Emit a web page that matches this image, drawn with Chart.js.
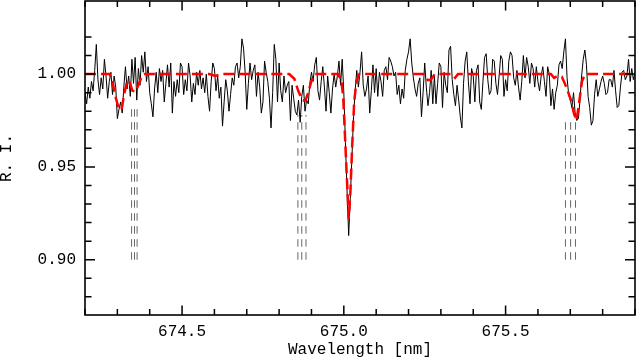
<!DOCTYPE html>
<html>
<head>
<meta charset="utf-8">
<script src="https://cdn.jsdelivr.net/npm/chart.js@4.4.1/dist/chart.umd.min.js"></script>
<style>
  html, body { margin: 0; padding: 0; background: #fff; }
  #wrap { width: 637px; height: 359px; }
</style>
</head>
<body>
<div id="wrap"><canvas id="spec"></canvas></div>
<script>
// observed spectrum, sampled every 0.005 nm from 674.2 nm
const WL_START = 674.2;
const WL_STEP = 0.005;
const flux = [
  0.990,0.984,0.993,0.987,0.996,0.991,1.002,1.016,0.997,0.989,0.998,0.992,1.008,0.999,0.987,0.996,1.001,0.989,0.999,0.993,
  0.976,0.981,0.985,0.979,0.993,1.004,0.992,0.999,0.988,1.008,0.995,1.009,0.986,1.003,0.994,1.010,1.001,1.012,0.996,1.004,
  0.990,0.984,0.977,0.992,1.001,0.990,1.003,0.996,1.002,0.985,0.995,1.005,0.993,1.006,0.979,0.996,0.988,0.997,0.990,1.006,
  1.004,0.989,0.997,0.991,1.006,0.999,0.985,0.995,0.989,1.001,0.994,1.002,0.992,0.998,0.990,1.000,0.988,0.980,0.996,1.006,
  1.003,0.991,0.999,0.987,0.993,0.972,0.985,0.997,0.991,0.980,0.989,0.998,0.994,1.004,1.006,0.998,1.004,1.019,1.014,1.001,
  0.981,0.995,1.006,0.997,1.002,1.005,0.988,1.001,0.993,0.979,0.985,1.007,1.001,0.996,0.987,0.971,0.990,1.016,1.008,0.985,
  1.006,0.991,0.985,0.999,0.990,0.994,0.996,0.975,0.994,0.987,0.980,0.978,0.986,0.974,0.988,0.994,0.980,0.986,0.984,0.995,
  1.001,0.996,1.005,1.009,0.991,0.986,0.996,1.004,0.993,0.980,0.999,0.990,0.979,0.992,1.000,0.993,0.999,1.007,0.994,1.008,
  0.990,0.963,0.937,0.913,0.933,0.955,0.977,0.991,1.002,0.993,1.001,1.012,0.994,0.988,0.992,0.999,0.979,0.991,1.005,0.990,
  1.003,0.988,1.001,0.996,0.988,1.002,1.004,0.997,1.009,1.007,1.004,0.999,1.001,0.989,0.994,0.984,0.992,0.987,1.002,1.008,
  1.012,1.019,1.006,0.998,0.992,0.988,0.995,0.998,0.977,0.990,1.006,0.993,0.983,0.990,1.002,0.984,0.999,0.984,0.995,1.006,
  1.004,0.982,1.001,0.994,0.990,1.013,1.015,0.997,0.989,0.983,0.994,0.986,0.977,0.971,0.995,1.007,1.012,0.996,0.984,1.003,
  0.999,0.985,1.002,1.005,0.985,0.981,0.996,1.009,1.011,0.997,0.989,0.991,1.008,1.007,0.995,0.989,0.999,1.010,1.008,0.988,
  0.997,0.991,1.007,1.012,1.010,0.998,0.994,1.002,0.993,0.986,0.996,1.010,0.998,1.009,1.004,0.995,1.006,1.003,0.993,1.004,
  0.996,0.991,0.999,1.004,0.996,0.988,1.004,1.000,0.983,0.992,0.981,0.990,0.994,1.005,1.007,1.003,1.012,1.019,0.998,0.989,
  0.986,0.982,0.990,0.979,0.975,0.976,0.986,0.999,1.008,1.013,1.005,0.988,0.982,0.9725,0.975,0.989,0.997,0.988,0.992,0.996,
  0.999,0.995,0.989,0.990,0.997,0.997,0.993,1.002,0.991,0.982,0.983,0.993,1.001,1.002,0.997,0.999,1.008,0.996,1.003,0.997,
  1.001
];

// synthetic model (red dashed)
const modelWl = [
  674.200, 674.276, 674.285, 674.294, 674.305, 674.313, 674.322, 674.331, 674.337, 674.347,
  674.356, 674.365, 674.377, 674.384, 674.584, 674.603, 674.621, 674.831, 674.847, 674.859,
  674.872, 674.881, 674.890, 674.900, 674.909, 674.982, 674.992, 674.998, 675.004, 675.011,
  675.015, 675.020, 675.026, 675.032, 675.039, 675.048, 675.245, 675.260, 675.269, 675.281,
  675.335, 675.344, 675.353, 675.640, 675.650, 675.660, 675.674, 675.683, 675.692, 675.702,
  675.711, 675.719, 675.726, 675.736, 675.745, 675.900
];
const modelFlux = [
  1.000, 1.000, 0.996, 0.988, 0.981, 0.981, 0.990, 0.9965, 0.996, 0.991,
  0.9905, 0.994, 0.9995, 1.000, 1.000, 0.999, 1.000, 1.000, 0.9975, 0.991,
  0.986, 0.9855, 0.990, 0.9965, 1.000, 1.000, 0.997, 0.988, 0.965, 0.938,
  0.922, 0.935, 0.962, 0.985, 0.996, 1.000, 1.000, 0.9968, 0.997, 1.000,
  1.000, 0.998, 1.000, 1.000, 0.998, 0.999, 0.9985, 0.995, 0.991, 0.986,
  0.979, 0.975, 0.983, 0.996, 1.000, 1.000
];

// line identifications (grey dashed markers)
const markerGroups = [
  [674.344, 674.353, 674.361],
  [674.858, 674.870, 674.883],
  [675.685, 675.701, 675.716]
];
const markerTops = [0.984, 0.978, 0.975];
const MARKER_BOTTOM = 0.90;

const X_MIN = 674.2, X_MAX = 675.9;
const Y_MIN = 0.8702, Y_MAX = 1.0394;

const FONT = "'Liberation Mono', 'DejaVu Sans Mono', monospace";

const isStep = (v, n) => Math.abs(v * n - Math.round(v * n)) < 1e-6;

const spectrum = flux.map((f, i) => ({ x: WL_START + i * WL_STEP, y: f }));
const model = modelWl.map((w, i) => ({ x: w, y: modelFlux[i] }));

const markerSets = [];
markerGroups.forEach((group, g) => {
  group.forEach(w => {
    markerSets.push({
      data: [{ x: w, y: MARKER_BOTTOM }, { x: w, y: markerTops[g] }],
      borderColor: '#666',
      borderWidth: 1,
      borderDash: [7.5, 5.5],
      pointRadius: 0,
      order: 2
    });
  });
});

// inward ticks on all four sides plus the frame
const frameTicks = {
  id: 'frameTicks',
  afterDatasetsDraw(chart) {
    const { ctx, chartArea: a, scales: { x, y } } = chart;
    ctx.save();
    ctx.strokeStyle = '#000';
    ctx.lineWidth = 1.5;
    ctx.beginPath();
    x.ticks.forEach(t => {
      if (!isStep(t.value, 10)) return;
      const len = isStep(t.value, 2) ? 9.5 : 6;
      const px = x.getPixelForValue(t.value);
      ctx.moveTo(px, a.bottom); ctx.lineTo(px, a.bottom - len);
      ctx.moveTo(px, a.top); ctx.lineTo(px, a.top + len);
    });
    y.ticks.forEach(t => {
      if (!isStep(t.value, 100)) return;
      const len = isStep(t.value, 20) ? 10 : 6.5;
      const py = y.getPixelForValue(t.value);
      ctx.moveTo(a.left, py); ctx.lineTo(a.left + len, py);
      ctx.moveTo(a.right, py); ctx.lineTo(a.right - len, py);
    });
    ctx.stroke();
    ctx.lineWidth = 1.6;
    ctx.strokeRect(a.left, a.top, a.right - a.left, a.bottom - a.top);
    ctx.restore();
  }
};

new Chart(document.getElementById('spec'), {
  type: 'line',
  data: {
    datasets: [
      {
        data: model,
        borderColor: '#ff0000',
        borderWidth: 2.5,
        borderDash: [11, 5],
        pointRadius: 0,
        order: 0
      },
      {
        data: spectrum,
        borderColor: '#000',
        borderWidth: 1,
        pointRadius: 0,
        order: 1
      },
      ...markerSets
    ]
  },
  options: {
    responsive: true,
    maintainAspectRatio: false,
    animation: false,
    devicePixelRatio: 1,
    layout: { padding: { top: 1, right: 2, left: 0, bottom: 0 } },
    plugins: { legend: { display: false }, tooltip: { enabled: false } },
    scales: {
      x: {
        type: 'linear',
        min: X_MIN,
        max: X_MAX,
        grid: { display: false, drawTicks: false },
        border: { display: false },
        afterFit: s => { s.height = 44; s.paddingLeft = 0; s.paddingRight = 0; },
        ticks: {
          stepSize: 0.1,
          autoSkip: false,
          maxRotation: 0,
          padding: 7,
          color: '#000',
          font: { family: FONT, size: 16 },
          callback: v => isStep(v, 2) ? v.toFixed(1) : ''
        },
        title: {
          display: true,
          text: 'Wavelength [nm]',
          color: '#000',
          font: { family: FONT, size: 16, lineHeight: 1.1 },
          padding: 0
        }
      },
      y: {
        min: Y_MIN,
        max: Y_MAX,
        grid: { display: false, drawTicks: false },
        border: { display: false },
        afterFit: s => { s.width = 85; s.paddingTop = 0; s.paddingBottom = 0; },
        ticks: {
          stepSize: 0.01,
          autoSkip: false,
          padding: 9,
          color: '#000',
          font: { family: FONT, size: 16 },
          callback: v => isStep(v, 20) ? v.toFixed(2) : ''
        },
        title: {
          display: true,
          text: 'R. I.',
          color: '#000',
          font: { family: FONT, size: 16, lineHeight: 0.85 },
          padding: 0
        }
      }
    }
  },
  plugins: [frameTicks]
});
</script>
</body>
</html>
